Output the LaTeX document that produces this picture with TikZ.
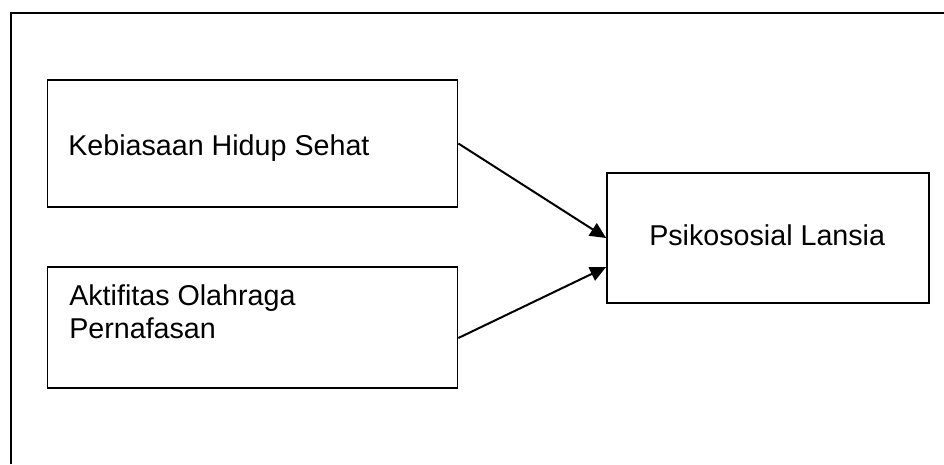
\documentclass[tikz,border=0pt]{standalone}
\usepackage{fontspec}
\setmainfont{Liberation Sans}
\usetikzlibrary{arrows.meta,calc}
\begin{document}
\begin{tikzpicture}[x=0.75pt,y=-0.75pt,
  box/.style={draw=black,line width=1.3pt,rectangle,inner sep=0pt},
  lbl/.style={font=\fontsize{21.5pt}{25pt}\selectfont,inner sep=0pt,anchor=base west},
  link/.style={line width=1.5pt,-{Triangle[length=12pt,width=11pt]}}]
\useasboundingbox (0,0) rectangle (944,464);
% frame, open towards right and bottom
\draw[line width=1.6pt] (11,464) -- (11,13) -- (944,13);
% boxes
\node[box,minimum width=410*0.75pt,minimum height=127*0.75pt] (a) at (252.5,143.5) {};
\node[box,minimum width=410*0.75pt,minimum height=121*0.75pt] (b) at (252.5,327.5) {};
\node[box,minimum width=322*0.75pt,minimum height=130*0.75pt] (c) at (768,238) {};
% labels
\node[lbl] (ta) at (68,155) {Kebiasaan Hidup Sehat};
\node[lbl] (tb1) at (69,305) {Aktifitas Olahraga};
\node[lbl] (tb2) at (69,338) {Pernafasan};
\node[lbl] (tc) at (649,245) {Psikososial Lansia};
% connectors
\draw[link] (a.east) -- (c.west);
\draw[link] ($(b.east)+(0,10.5)$) -- ($(c.west)+(0,29)$);
\end{tikzpicture}
\end{document}
